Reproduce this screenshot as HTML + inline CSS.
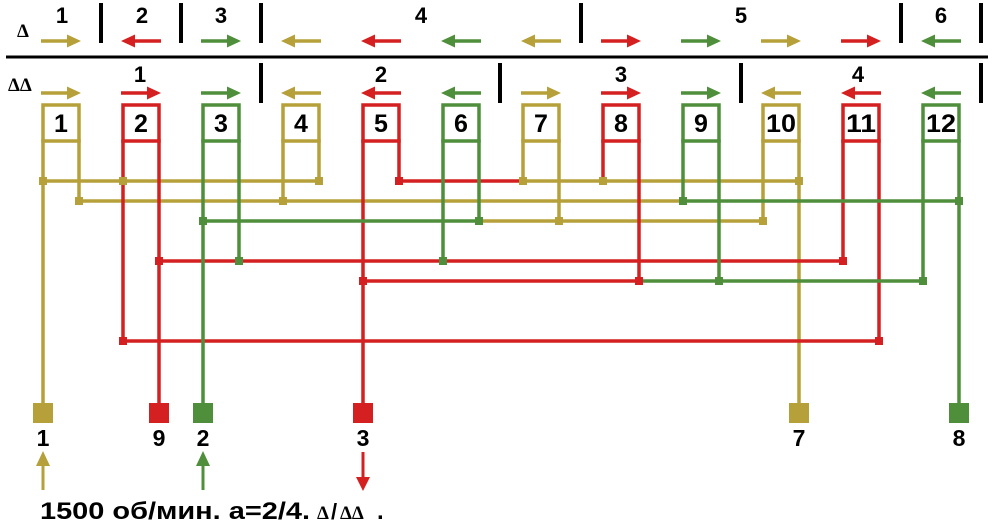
<!DOCTYPE html>
<html><head><meta charset="utf-8"><style>html,body{margin:0;padding:0;background:#fff}svg{display:block}</style></head>
<body>
<svg width="1000" height="530" viewBox="0 0 1000 530" xmlns="http://www.w3.org/2000/svg">
<defs>
<path id="ar" d="M0,-1.8 H26 V-6.5 L40,0 L26,6.5 V1.8 H0 Z"/>
<path id="al" d="M40,-1.8 H14 V-6.5 L0,0 L14,6.5 V1.8 H40 Z"/>
</defs>
<g font-family="Liberation Sans, sans-serif" font-weight="bold" font-size="22" fill="#000" text-anchor="middle">
<text x="62" y="23">1</text><text x="142" y="23">2</text><text x="221" y="23">3</text>
<text x="421" y="23">4</text><text x="741" y="23">5</text><text x="941" y="23">6</text>
<text x="140" y="82">1</text><text x="381" y="82">2</text><text x="621" y="82">3</text><text x="858" y="82">4</text>
</g>
<g font-family="Liberation Serif, serif" font-weight="bold" font-size="19" fill="#000">
<text x="17" y="37">Δ</text><text x="8" y="91">ΔΔ</text>
</g>
<g stroke="#000" stroke-width="4">
<line x1="6" y1="57" x2="988" y2="57" stroke-width="3"/>
<line x1="101" y1="3" x2="101" y2="43"/><line x1="181" y1="3" x2="181" y2="43"/><line x1="261" y1="3" x2="261" y2="43"/>
<line x1="581" y1="3" x2="581" y2="43"/><line x1="901" y1="3" x2="901" y2="43"/><line x1="981" y1="3" x2="981" y2="43"/>
<line x1="261" y1="63" x2="261" y2="103"/><line x1="500" y1="63" x2="500" y2="103"/><line x1="741" y1="63" x2="741" y2="103"/><line x1="981" y1="63" x2="981" y2="103"/>
</g>
<g>
<use href="#ar" x="41" y="41" fill="#b5a03a"/><use href="#al" x="121" y="41" fill="#d42020"/><use href="#ar" x="201" y="41" fill="#4f8f3c"/>
<use href="#al" x="281" y="41" fill="#b5a03a"/><use href="#al" x="361" y="41" fill="#d42020"/><use href="#al" x="441" y="41" fill="#4f8f3c"/>
<use href="#al" x="521" y="41" fill="#b5a03a"/><use href="#ar" x="601" y="41" fill="#d42020"/><use href="#ar" x="681" y="41" fill="#4f8f3c"/>
<use href="#ar" x="761" y="41" fill="#b5a03a"/><use href="#ar" x="841" y="41" fill="#d42020"/><use href="#al" x="921" y="41" fill="#4f8f3c"/>
<use href="#ar" x="41" y="93" fill="#b5a03a"/><use href="#ar" x="121" y="93" fill="#d42020"/><use href="#ar" x="201" y="93" fill="#4f8f3c"/>
<use href="#al" x="281" y="93" fill="#b5a03a"/><use href="#al" x="361" y="93" fill="#d42020"/><use href="#al" x="441" y="93" fill="#4f8f3c"/>
<use href="#ar" x="521" y="93" fill="#b5a03a"/><use href="#ar" x="601" y="93" fill="#d42020"/><use href="#ar" x="681" y="93" fill="#4f8f3c"/>
<use href="#al" x="761" y="93" fill="#b5a03a"/><use href="#al" x="841" y="93" fill="#d42020"/><use href="#al" x="921" y="93" fill="#4f8f3c"/>
</g>
<g fill="none" stroke-width="3.5" stroke-linecap="square">
<g stroke="#b5a03a">
<path d="M43,141 V105 H79 V141 M43,141 H79"/>
<path d="M283,141 V105 H319 V141 M283,141 H319"/>
<path d="M523,141 V105 H559 V141 M523,141 H559"/>
<path d="M763,141 V105 H799 V141 M763,141 H799"/>
<path d="M43,141 V405"/><path d="M79,141 V201"/><path d="M283,141 V201"/><path d="M319,141 V181"/>
<path d="M523,141 V181"/><path d="M559,141 V221"/><path d="M763,141 V221"/><path d="M799,141 V405"/>
<path d="M43,181 H319"/><path d="M521,181 H799"/>
<path d="M79,201 H683"/><path d="M479,221 H763"/>
</g>
<g stroke="#d42020">
<path d="M123,141 V105 H159 V141 M123,141 H159"/>
<path d="M363,141 V105 H399 V141 M363,141 H399"/>
<path d="M603,141 V105 H639 V141 M603,141 H639"/>
<path d="M843,141 V105 H879 V141 M843,141 H879"/>
<path d="M123,141 V341"/><path d="M159,141 V405"/><path d="M363,141 V405"/><path d="M399,141 V181 H520"/>
<path d="M603,141 V181"/><path d="M639,141 V281"/><path d="M843,141 V261"/><path d="M879,141 V341"/>
<path d="M159,261 H843"/><path d="M363,281 H639"/><path d="M123,341 H879"/>
</g>
<g stroke="#4f8f3c">
<path d="M203,141 V105 H239 V141 M203,141 H239"/>
<path d="M443,141 V105 H479 V141 M443,141 H479"/>
<path d="M683,141 V105 H719 V141 M683,141 H719"/>
<path d="M923,141 V105 H959 V141 M923,141 H959"/>
<path d="M203,141 V405"/><path d="M239,141 V261"/><path d="M443,141 V261"/><path d="M479,141 V221"/>
<path d="M683,141 V201"/><path d="M719,141 V281"/><path d="M923,141 V281"/><path d="M959,141 V405"/>
<path d="M203,221 H479"/><path d="M683,201 H959"/><path d="M639,281 H923"/>
</g>
</g>
<g>
<g fill="#b5a03a">
<rect x="39" y="177" width="8" height="8"/><rect x="119" y="177" width="8" height="8"/><rect x="315" y="177" width="8" height="8"/>
<rect x="519" y="177" width="8" height="8"/><rect x="599" y="177" width="8" height="8"/><rect x="795" y="177" width="8" height="8"/>
<rect x="75" y="197" width="8" height="8"/><rect x="279" y="197" width="8" height="8"/>
<rect x="555" y="217" width="8" height="8"/><rect x="759" y="217" width="8" height="8"/>
</g>
<g fill="#d42020">
<rect x="395" y="177" width="8" height="8"/><rect x="155" y="257" width="8" height="8"/><rect x="839" y="257" width="8" height="8"/>
<rect x="359" y="277" width="8" height="8"/><rect x="635" y="277" width="8" height="8"/>
<rect x="119" y="337" width="8" height="8"/><rect x="875" y="337" width="8" height="8"/>
</g>
<g fill="#4f8f3c">
<rect x="679" y="197" width="8" height="8"/><rect x="955" y="197" width="8" height="8"/>
<rect x="199" y="217" width="8" height="8"/><rect x="475" y="217" width="8" height="8"/>
<rect x="235" y="257" width="8" height="8"/><rect x="439" y="257" width="8" height="8"/>
<rect x="715" y="277" width="8" height="8"/><rect x="919" y="277" width="8" height="8"/>
</g>
</g>
<g font-family="Liberation Sans, sans-serif" font-weight="bold" font-size="25" fill="#000" text-anchor="middle">
<text x="61" y="132">1</text><text x="141" y="132">2</text><text x="221" y="132">3</text><text x="301" y="132">4</text>
<text x="381" y="132">5</text><text x="461" y="132">6</text><text x="541" y="132">7</text><text x="621" y="132">8</text>
<text x="701" y="132">9</text><text x="781" y="132" textLength="30" lengthAdjust="spacingAndGlyphs">10</text>
<text x="861" y="132" textLength="30" lengthAdjust="spacingAndGlyphs">11</text><text x="941" y="132" textLength="30" lengthAdjust="spacingAndGlyphs">12</text>
</g>
<rect x="33" y="403" width="20" height="20" fill="#b5a03a"/>
<rect x="149" y="403" width="20" height="20" fill="#d42020"/>
<rect x="193" y="403" width="20" height="20" fill="#4f8f3c"/>
<rect x="353" y="403" width="20" height="20" fill="#d42020"/>
<rect x="789" y="403" width="20" height="20" fill="#b5a03a"/>
<rect x="949" y="403" width="20" height="20" fill="#4f8f3c"/>
<g font-family="Liberation Sans, sans-serif" font-weight="bold" font-size="23" fill="#000" text-anchor="middle">
<text x="43" y="446">1</text><text x="159" y="446">9</text><text x="203" y="446">2</text>
<text x="363" y="446">3</text><text x="799" y="446">7</text><text x="959" y="446">8</text>
</g>
<path d="M41.5,490 V466 H36 L43,451 L50,466 H44.5 V490 Z" fill="#b5a03a"/>
<path d="M201.5,490 V466 H196 L203,451 L210,466 H204.5 V490 Z" fill="#4f8f3c"/>
<path d="M361.5,452 V477 H356 L363,491 L370,477 H364.5 V452 Z" fill="#d42020"/>
<text x="40" y="519" font-family="Liberation Sans, sans-serif" font-weight="bold" font-size="24" textLength="270" lengthAdjust="spacingAndGlyphs">1500 об/мин. а=2/4.</text>
<text x="317" y="519" font-family="Liberation Serif, serif" font-weight="bold" font-size="19">Δ</text>
<text x="331" y="519" font-family="Liberation Sans, sans-serif" font-weight="bold" font-size="22">/</text>
<text x="340" y="519" font-family="Liberation Serif, serif" font-weight="bold" font-size="19">ΔΔ</text>
<text x="377" y="519" font-family="Liberation Sans, sans-serif" font-weight="bold" font-size="24">.</text>
</svg>
</body></html>
